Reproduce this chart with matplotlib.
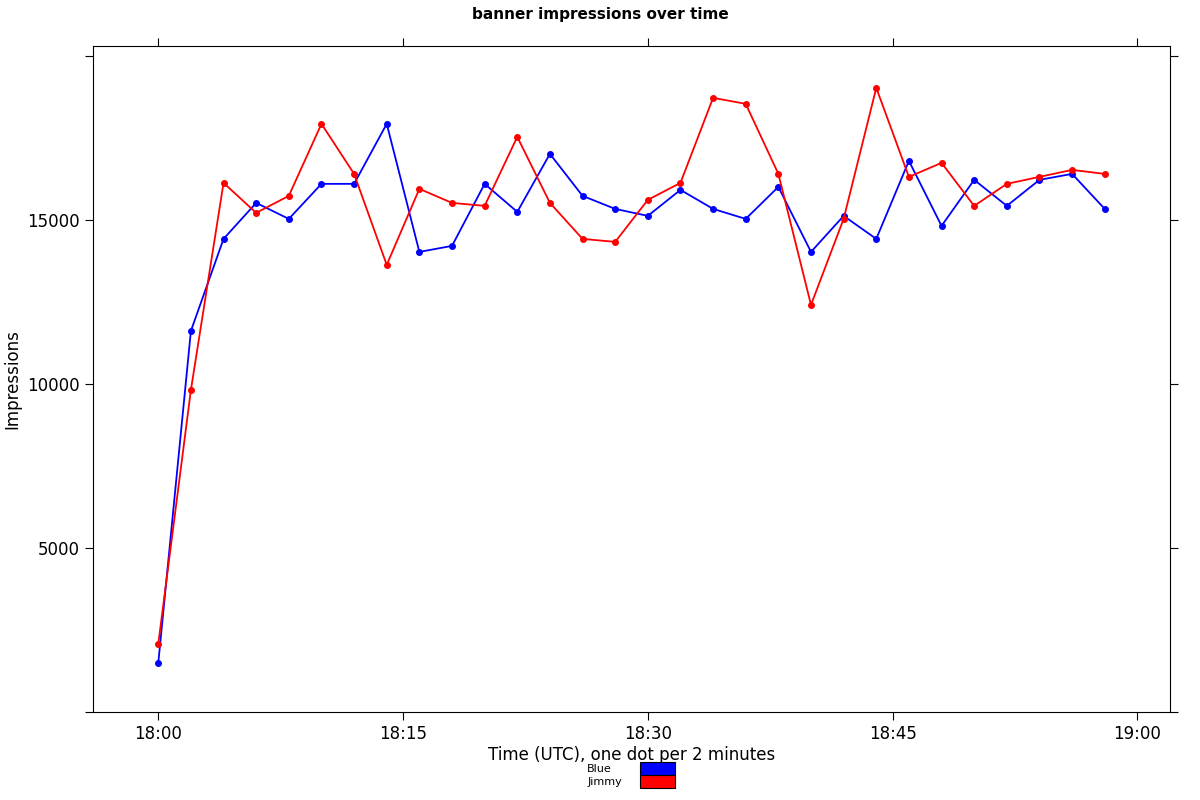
import matplotlib
matplotlib.use("Agg")
import matplotlib.pyplot as plt
import matplotlib.patches as mpatches

minutes = list(range(0, 60, 2))
blue = [1494, 11616, 14421, 15518, 15030, 16098, 16098, 17927, 14024, 14207,
        16098, 15244, 17012, 15732, 15335, 15122, 15915, 15335, 15030, 16006,
        14024, 15122, 14421, 16799, 14817, 16220, 15427, 16220, 16402, 15335]
jimmy = [2073, 9817, 16128, 15213, 15732, 17927, 16402, 13628, 15945, 15518,
         15427, 17530, 15518, 14421, 14329, 15610, 16128, 18720, 18537, 16402,
         12409, 15030, 19024, 16311, 16738, 15427, 16098, 16311, 16524, 16402]
xticks = [0, 15, 30, 45, 60]
xlabels = ["18:00", "18:15", "18:30", "18:45", "19:00"]

fig = plt.figure(figsize=(12, 8), dpi=100)
ax = fig.add_axes([93/1200, 88/800, (1170-93)/1200, (712-46)/800])
ax.plot(minutes, blue, color="#0000ff", lw=1.3, marker="o", ms=4)
ax.plot(minutes, jimmy, color="#ff0000", lw=1.3, marker="o", ms=4)

ax.set_xlim(-4, 62)
ax.set_ylim(0, 20300)
ax.set_xticks(xticks)
ax.set_xticklabels(xlabels, fontsize=12)
ax.set_yticks([0, 5000, 10000, 15000, 20000])
ax.set_yticklabels(["", "5000", "10000", "15000", ""], fontsize=12)
ax.tick_params(direction="out", length=6, top=True, right=True, width=0.8)
for s in ax.spines.values():
    s.set_linewidth(0.8)

ax.set_xlabel("Time (UTC), one dot per 2 minutes", fontsize=12, labelpad=2)
ax.set_ylabel("Impressions", fontsize=12)
fig.text(0.5, 1 - 14/800, "banner impressions over time", ha="center",
         va="center", fontsize=11, fontweight="bold")

# small legend below the x label
fig.text(612/1200, 1 - 769/800, "Blue", ha="right", va="center", fontsize=8)
fig.text(622/1200, 1 - 782/800, "Jimmy", ha="right", va="center", fontsize=8)
fig.patches.append(mpatches.Rectangle((640/1200, 1 - 775/800), 35/1200, 13/800,
                                      transform=fig.transFigure, fc="#0000ff", ec="black", lw=0.8))
fig.patches.append(mpatches.Rectangle((640/1200, 1 - 788/800), 35/1200, 13/800,
                                      transform=fig.transFigure, fc="#ff0000", ec="black", lw=0.8))

fig.savefig("out.png", dpi=100)
